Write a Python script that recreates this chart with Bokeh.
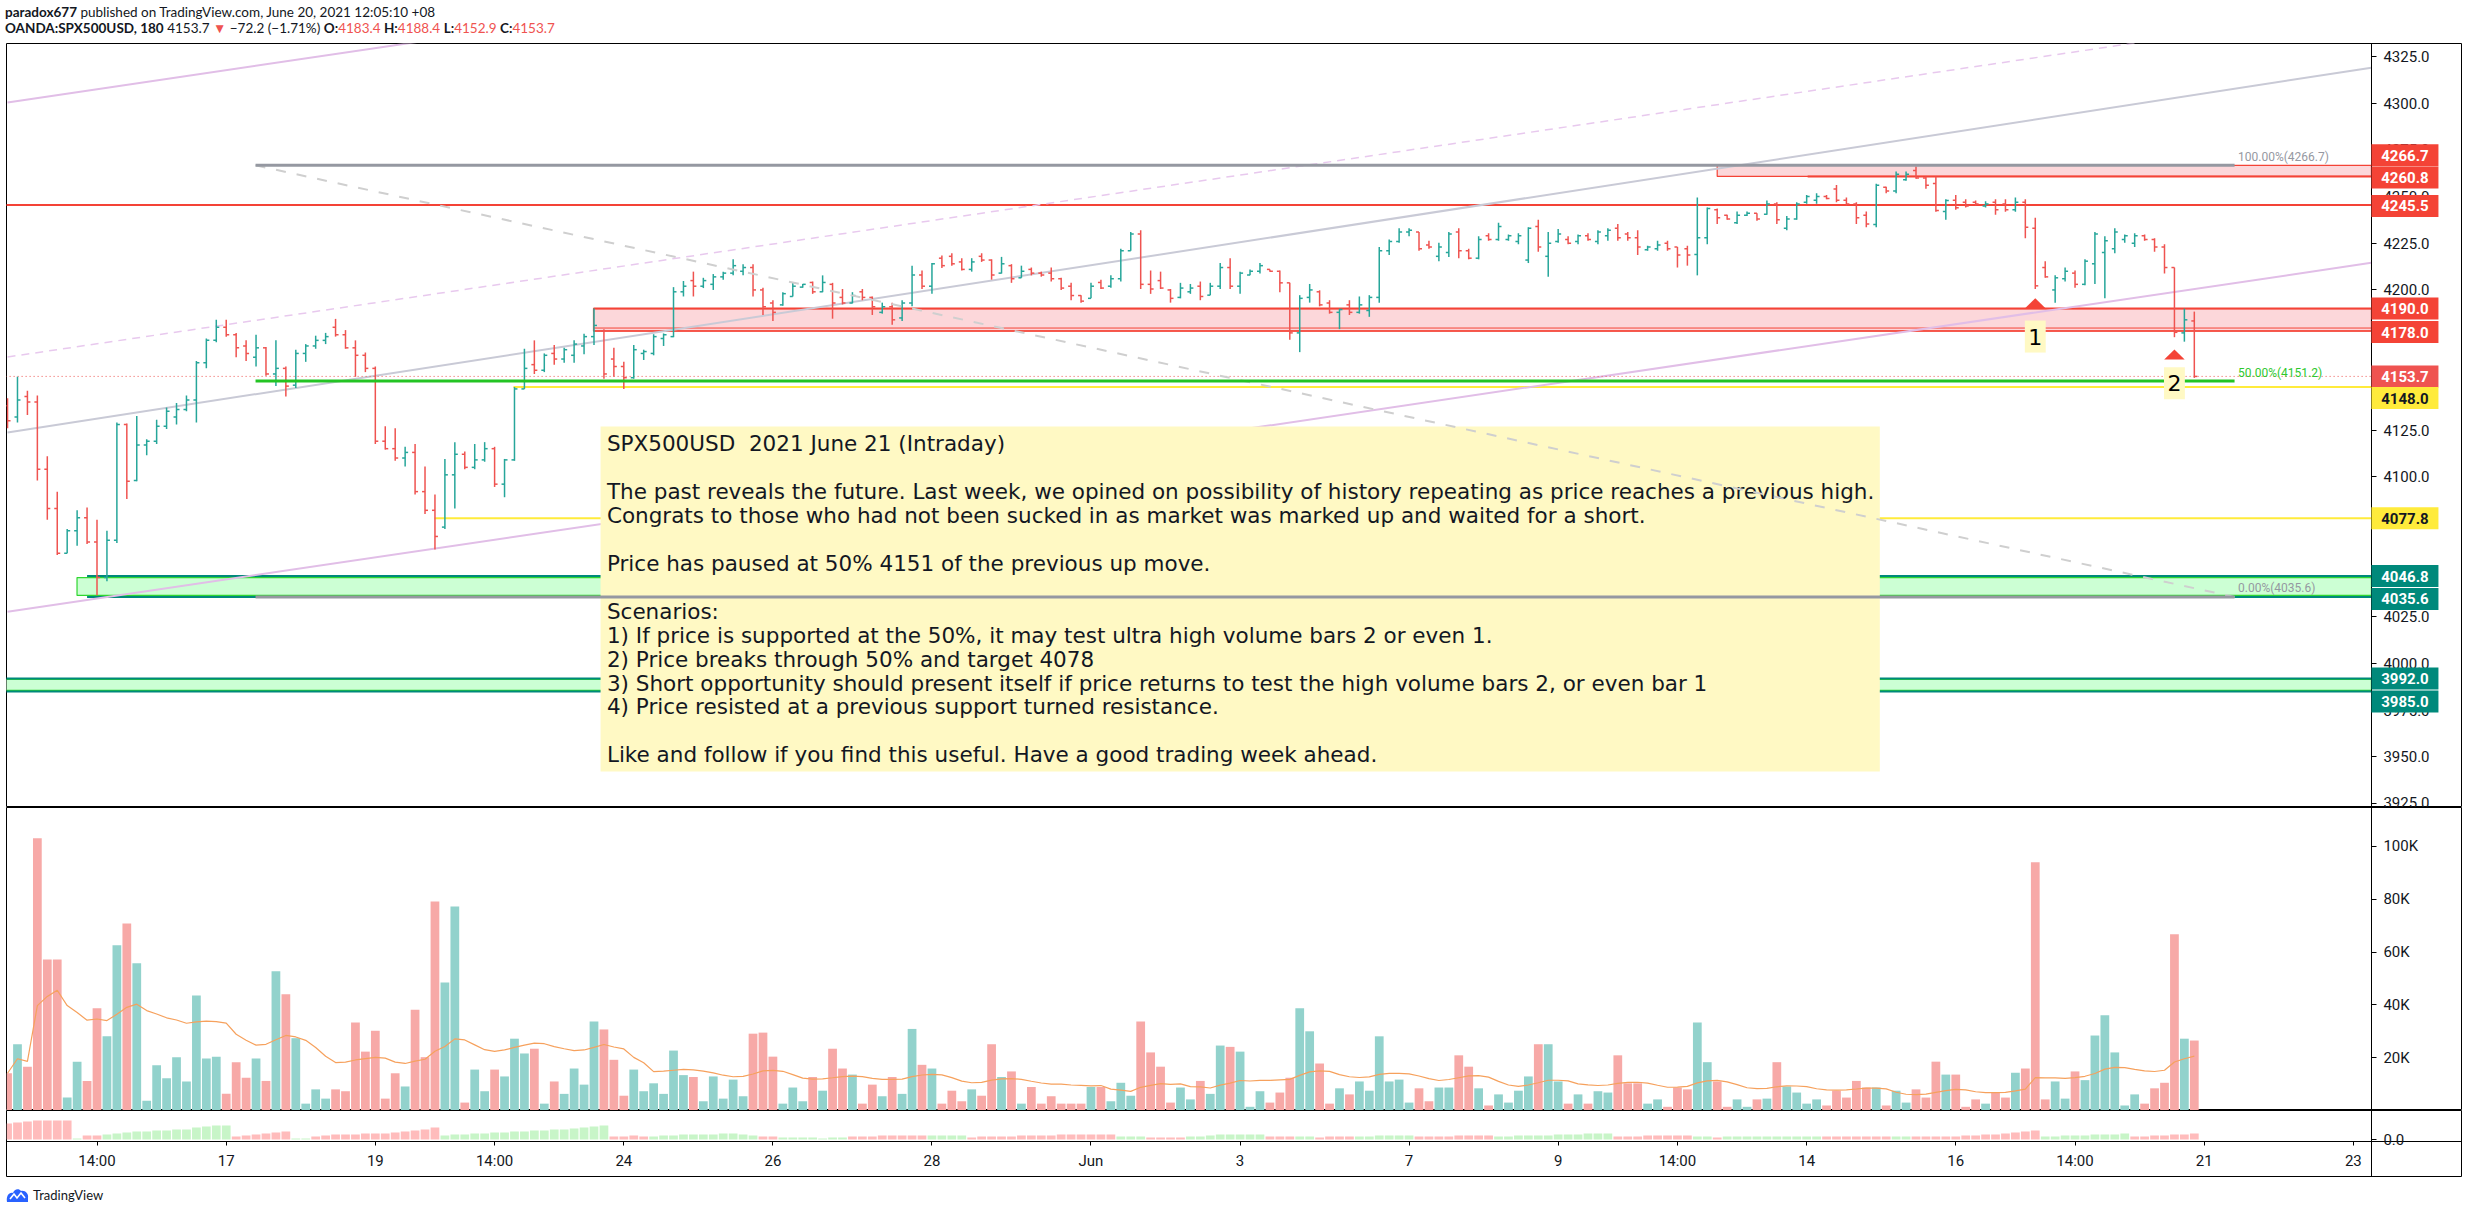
import numpy as np
import pandas as pd
from bokeh.plotting import figure
from bokeh.models import Range1d, FixedTicker, PrintfTickFormatter, Div, ColumnDataSource, LinearAxis, Grid
from bokeh.layouts import column
from bokeh.core.properties import value
from bokeh.embed import file_html
from bokeh.resources import INLINE

# ---------------- data (3h bars, OANDA:SPX500USD) ----------------
opens = [4138, 4132, 4143, 4140, 4104, 4083, 4059, 4071, 4078, 4065,
         4046, 4066, 4128, 4098, 4117, 4119, 4127, 4132, 4136, 4141,
         4161, 4173, 4180, 4176, 4170, 4164, 4169, 4155, 4158, 4149,
         4166, 4170, 4173, 4180, 4176, 4169, 4165, 4158, 4119, 4115,
         4110, 4113, 4092, 4082, 4073, 4101, 4112, 4105, 4109, 4115,
         4096, 4109, 4147, 4160, 4157, 4166, 4163, 4165, 4170, 4175,
         4178, 4163, 4159, 4153, 4166, 4166, 4174, 4175, 4199, 4205,
         4202, 4203, 4207, 4209, 4210, 4212, 4200, 4193, 4192, 4196.5,
         4201.5, 4204, 4199, 4203, 4196, 4193, 4199, 4196, 4188, 4191,
         4185, 4193, 4208, 4202, 4217, 4218, 4215, 4211, 4218, 4216,
         4209, 4213, 4206.5, 4211, 4209, 4209, 4206, 4202, 4197, 4195.5,
         4204, 4202, 4206, 4221, 4230, 4203, 4205, 4200, 4196, 4199,
         4202, 4197.2, 4202, 4212, 4202, 4208, 4210, 4211, 4210, 4203.8,
         4177, 4196, 4199, 4193, 4188, 4192, 4188, 4189, 4196, 4221,
         4226, 4231, 4231, 4224, 4218, 4220, 4231, 4221, 4217, 4229,
         4227, 4227, 4226, 4216, 4234, 4218, 4226, 4227, 4226, 4229,
         4226, 4229, 4233, 4230, 4228, 4221.5, 4222, 4225, 4223, 4222,
         4219, 4228, 4243, 4240, 4236, 4240, 4241, 4240.5, 4246, 4233,
         4238, 4247, 4248, 4250, 4254, 4248, 4246, 4240, 4235, 4255,
         4253, 4259, 4264, 4260, 4257, 4242, 4248, 4247, 4247, 4245,
         4247, 4246, 4243, 4247, 4233, 4212, 4200, 4206, 4209, 4203,
         4214, 4220, 4222, 4227, 4225, 4229, 4227, 4223, 4212, 4177, 4183.4]
highs = [4142, 4153.5, 4146, 4143.5, 4111, 4092, 4072, 4082, 4083.5, 4077,
         4071, 4129, 4128.5, 4132.5, 4120, 4130.5, 4137, 4139.5, 4143.5, 4162,
         4174, 4184, 4184, 4177, 4173, 4176, 4169.5, 4173, 4159, 4168,
         4171, 4175.5, 4177, 4184.5, 4178.5, 4173, 4166.5, 4159, 4127, 4126,
         4116, 4117.5, 4105.5, 4090.5, 4109.5, 4118.5, 4113.5, 4117.5, 4118.5, 4116,
         4109.5, 4148, 4168.5, 4173, 4166, 4170.5, 4169, 4173, 4176.5, 4190,
         4179, 4169, 4161.5, 4170.5, 4168, 4176.3, 4176.7, 4201.5, 4204.8, 4209.8,
         4206.5, 4208.5, 4209.8, 4216.4, 4213.8, 4213.8, 4201.2, 4194.5, 4198.8, 4203.8,
         4203.2, 4204.5, 4207.8, 4203.8, 4200.5, 4198.8, 4200.5, 4196.5, 4193.2, 4193.2,
         4194.5, 4213, 4210.4, 4214.4, 4218.4, 4219.7, 4217, 4217, 4219.7, 4216.4,
         4217.7, 4213.8, 4213, 4212, 4209.8, 4212, 4206.5, 4203.8, 4197.2, 4203.8,
         4205.5, 4207.8, 4222, 4231, 4232, 4210.4, 4209.8, 4200.5, 4203.8, 4203.2,
         4204.5, 4203.8, 4214.4, 4217, 4209.8, 4211, 4214.4, 4211, 4210.4, 4203.8,
         4197.2, 4203.2, 4199.8, 4194.5, 4190, 4194.5, 4196.5, 4197.2, 4223, 4227,
         4233, 4233, 4231, 4226.3, 4225.3, 4231, 4233, 4222, 4228.7, 4230.3,
         4236, 4229.7, 4230.3, 4233.6, 4237.6, 4231, 4232.6, 4228.7, 4229.7, 4230.3,
         4232, 4233, 4235.3, 4231, 4232, 4223.7, 4226.3, 4226.3, 4223, 4223.7,
         4249.5, 4244.2, 4243.6, 4240.3, 4242, 4242, 4241, 4247.9, 4246.9, 4239.6,
         4246.9, 4250.9, 4251.8, 4250.9, 4256.2, 4249.5, 4246.9, 4242, 4256.8, 4255.2,
         4263.4, 4263.4, 4266.1, 4260.8, 4260.8, 4248.5, 4250.9, 4248.5, 4247.9, 4247.5,
         4248.5, 4248.5, 4249.5, 4248.5, 4238.6, 4215.4, 4207.8, 4212, 4210.4, 4216.4,
         4231, 4228.7, 4233, 4229.7, 4230.3, 4229.7, 4227.7, 4224.4, 4212, 4190, 4188.4]
lows = [4126, 4129, 4133, 4098, 4077, 4058, 4059, 4063, 4064, 4036.5,
        4044, 4064.5, 4088, 4097.5, 4111.5, 4117.5, 4125.5, 4128, 4135, 4129,
        4158, 4172, 4175, 4164, 4162, 4159, 4154, 4148.5, 4143, 4147.5,
        4161.5, 4168.5, 4171, 4175, 4168.5, 4153.5, 4156, 4117.5, 4114.5, 4108.5,
        4105.5, 4090.5, 4080, 4061, 4072, 4083, 4104, 4104, 4108, 4094.5,
        4089, 4108.5, 4147, 4155, 4156, 4160, 4161, 4161, 4165.5, 4170.5,
        4152.5, 4153.5, 4147, 4152.5, 4162.5, 4165, 4170, 4174.7, 4196.5, 4196.5,
        4201, 4200, 4205.5, 4207.8, 4207.8, 4196.5, 4186.6, 4183.3, 4191.5, 4196.5,
        4201.2, 4197.9, 4198.8, 4184.6, 4192.2, 4192.8, 4194.5, 4186.6, 4187.3, 4181.3,
        4183.3, 4191.2, 4200.5, 4197.9, 4211.8, 4213, 4210.4, 4209.8, 4215, 4205.5,
        4208.8, 4203.8, 4206.5, 4207.8, 4207.1, 4204.5, 4200, 4194.5, 4193.2, 4195.5,
        4200.5, 4201.2, 4204.5, 4221, 4200.5, 4197.9, 4200.5, 4193.2, 4195.5, 4197.9,
        4194.5, 4197.2, 4200.5, 4200.5, 4197.9, 4207.8, 4208.8, 4209.8, 4198.8, 4173.3,
        4166.7, 4193.2, 4191.2, 4187.3, 4179, 4186.6, 4187.3, 4185.6, 4193.2, 4218.7,
        4225.3, 4228.7, 4221, 4222, 4215.4, 4217.7, 4217, 4216.4, 4216.4, 4226.3,
        4226.3, 4226.3, 4224.4, 4214.4, 4220.4, 4207.1, 4225.3, 4224.4, 4224.4, 4226.3,
        4224.4, 4226.3, 4226.3, 4226.3, 4218.7, 4221, 4221, 4221, 4212, 4213,
        4207.8, 4224.4, 4235.3, 4237.6, 4235.3, 4239.6, 4237, 4240.3, 4235.3, 4232,
        4237.6, 4246.2, 4246.2, 4248.5, 4246.9, 4245.2, 4235.3, 4233.6, 4233.6, 4251.8,
        4251.8, 4258.5, 4259.5, 4254.2, 4241.9, 4237.6, 4242.9, 4244.2, 4245.2, 4244.2,
        4240.3, 4241.9, 4241.9, 4227.7, 4200.5, 4206.5, 4193.2, 4204.5, 4201.2, 4202.5,
        4203.2, 4195.5, 4219.7, 4225.3, 4223, 4226.3, 4220.4, 4208.8, 4174.7, 4172.3, 4152.9]
closes = [4130, 4141, 4140, 4104, 4083, 4059, 4071, 4078, 4065, 4046,
          4066, 4128, 4097.5, 4117, 4119, 4127, 4135, 4136, 4141, 4161,
          4173, 4180, 4176, 4169, 4166, 4169, 4155, 4158, 4148.5, 4166,
          4170, 4173, 4175, 4176, 4169, 4165, 4158, 4119, 4115, 4110,
          4113, 4092, 4082, 4068, 4101, 4112, 4105, 4109, 4115, 4096,
          4109, 4147, 4158, 4157, 4165, 4163, 4168, 4171, 4175, 4181,
          4155, 4159, 4153, 4168, 4167, 4175, 4176, 4199, 4202, 4202,
          4205, 4207, 4209, 4213, 4212, 4200, 4191, 4188, 4198, 4202,
          4203, 4199, 4204, 4193, 4193, 4197, 4196, 4191, 4191, 4184,
          4193, 4208, 4202, 4214, 4213, 4214, 4211, 4215, 4216, 4208,
          4214, 4206, 4210, 4209, 4208, 4206, 4201, 4197, 4194, 4202,
          4201, 4206, 4221, 4230, 4203, 4200.5, 4201, 4195.5, 4201, 4201,
          4196.5, 4202, 4212, 4202, 4209, 4210, 4213, 4210, 4203.8, 4177,
          4195.5, 4200, 4192, 4188, 4189.5, 4188, 4192, 4196, 4221, 4226,
          4231, 4232, 4222, 4223, 4223, 4230, 4221, 4217, 4227, 4227,
          4234, 4229, 4229, 4233, 4223, 4225, 4230, 4225, 4229, 4227,
          4231, 4232, 4228, 4228, 4223, 4223, 4224, 4222, 4218.7, 4218.7,
          4228, 4243.6, 4238.6, 4238, 4240, 4241, 4238, 4246, 4237.6, 4238,
          4246, 4250, 4250, 4249, 4248, 4246, 4238.6, 4235.3, 4256, 4253,
          4262, 4262, 4260, 4256, 4242.6, 4247.9, 4244, 4245, 4246, 4246,
          4243, 4243, 4247, 4233.6, 4202.2, 4207, 4206.5, 4210, 4203, 4215.4,
          4230, 4226.3, 4231, 4229, 4229, 4227, 4223, 4212, 4177.3, 4184, 4153.7]
volume_k = [14.1, 25.1, 16.6, 103.1, 57.2, 57.2, 4.9, 18.5, 11.2, 38.7,
            28.1, 62.6, 70.8, 55.8, 3.7, 17.1, 12.2, 20.2, 11.0, 43.6,
            19.7, 20.4, 6.3, 18.3, 12.4, 19.7, 11.2, 52.7, 44.0, 27.4,
            2.6, 8.0, 4.5, 8.0, 7.3, 33.3, 22.3, 30.2, 4.5, 14.1,
            9.1, 38.2, 20.2, 79.2, 48.5, 77.3, 3.0, 15.5, 7.3, 15.5,
            12.9, 27.2, 21.6, 23.4, 2.6, 11.0, 6.3, 15.9, 9.8, 33.7,
            30.7, 19.2, 5.6, 15.5, 7.3, 10.3, 6.3, 22.7, 13.4, 12.7,
            3.5, 12.9, 4.5, 11.7, 5.4, 29.1, 29.5, 20.4, 2.6, 8.7,
            3.5, 12.7, 7.5, 23.4, 15.9, 13.6, 2.6, 9.8, 5.4, 12.7,
            6.3, 30.9, 17.3, 15.9, 2.6, 7.5, 3.5, 8.0, 5.6, 25.1,
            12.7, 14.8, 2.6, 8.9, 2.6, 5.4, 2.6, 2.6, 2.6, 8.9,
            8.9, 3.5, 10.5, 5.6, 33.7, 22.0, 16.6, 3.0, 8.7, 4.2,
            11.2, 6.3, 24.6, 24.1, 22.3, 1.4, 7.3, 3.0, 6.8, 12.4,
            38.7, 30.0, 17.8, 2.6, 8.4, 6.1, 11.0, 7.5, 28.1, 11.0,
            11.7, 3.0, 8.4, 3.5, 8.7, 8.7, 20.9, 16.6, 8.4, 1.9,
            6.1, 3.0, 7.5, 12.9, 25.1, 25.1, 11.0, 2.6, 6.1, 2.6,
            7.3, 6.8, 20.9, 10.3, 10.3, 2.6, 4.2, 1.4, 8.7, 8.0,
            33.3, 18.3, 11.0, 1.4, 4.2, 1.4, 4.2, 4.5, 18.3, 9.1,
            6.8, 2.6, 4.2, 1.9, 7.5, 4.9, 11.2, 8.7, 8.7, 1.9,
            7.5, 3.0, 8.0, 4.9, 18.5, 13.6, 13.6, 1.4, 4.2, 2.6,
            6.8, 4.9, 14.3, 15.9, 94.0, 4.2, 11.0, 4.5, 14.8, 11.5,
            28.4, 36.1, 22.0, 1.9, 6.1, 2.6, 8.4, 10.5, 66.8, 27.2, 26.5]
osc = [-16, -17, -18, -19, -19, -19, -19, 1, -4, -4,
       5, 6, 7, 8, 8, 9, 9, 10, 10, 12, 13, 14, 14,
       -3, -4, -5, -6, -7, -8, 1, 1,
       -3, -4, -5, -5, -5, -6, -6, -6, -7, -8, -9, -10, -12,
       4, 5, 5, 6, 6, 7, 7, 8, 8, 9, 9, 10, 10, 11, 12, 13, 14,
       -3, -3, -4, -3,
       3, 4, 4, 5, 5, 5, 5, 6, 6, 5, 4,
       -3, -3, 2, 2, 2, 2, 1, 2, 2,
       -3, -3, -3, -4, -4, -4, -4, -4,
       4, 4, 4, 4,
       -2, -3, -3, -3, -3, -4, -4, -4, -4,
       -5, -5, -5, -5, -5, -5, 3, 3, 3, -2, -2, -2, -2,
       3, 3, 4, 5, 5, 5, 5, 5, -3, -3, -3, 3, 3, -2, -3, -3, -3,
       3, 3, 4, 4, 4, 4, -3, -3, -3, -3, -4, -4, -4, -4,
       3, 3, 4, 4, 4, 4, 5, 5, 5, 6, 6, 6,
       -3, -3, -3, -4, -4, -4, -4, -4, 3, 3, -2,
       3, 3, 3, 3, 3, 3, 3, 3, 3, 3,
       -3, -3, -3, -3, -3, -3, -3, 3, 3,
       -3, -3, -3, -3, -3, -4, -4, -5, -5, -6, -7, -8, -9,
       3, 3, 4, 4, 4, 5, 5, 5, 6,
       -3, -3, -4, -4, -5, -5, -6]

x_tick_idx = [9, 22, 37, 49, 62, 77, 93, 109, 124, 141, 156, 168, 181, 196, 208, 221, 236]
x_tick_labels = ["14:00", "17", "19", "14:00", "24", "26", "28", "Jun", "3", "7", "9",
                 "14:00", "14", "16", "14:00", "21", "23"]
price_ticks = [3925, 3950, 3975, 4000, 4025, 4050, 4075, 4100, 4125, 4150, 4175,
               4200, 4225, 4250, 4275, 4300, 4325]
vol_ticks = [20, 40, 60, 80, 100]

# drawings (bar index, price)
zone_left = [172.0, 58.95, 6.99, -1.0]
zone_bottom = [4260.8, 4178.0, 4036.4, 3985.6]
zone_top = [4266.7, 4190.0, 4046.0, 3991.4]
level_y = [4245.5, 4260.8, 4190.0, 4179.6, 4178.0, 4046.8, 4035.6, 3992.0, 3985.0, 4148.0, 4077.8]
level_start = [-1.0, 181.1, 58.95, 58.95, 58.95, 8.0, 8.0, -1.0, -1.0, 50.9, 42.96]
channel_x = [0.0, 237.8]
channel_lower = [4027.7, 4214.5]
channel_upper = [4300.4, 4487.2]
channel_mid = [4164.1, 4350.9]
trend_gray = [4123.7, 4319.0]
fib_x = [24.95, 224.05]
fib_levels = [4266.7, 4151.2, 4035.6]
fib_texts = ["100.00%(4266.7)", "50.00%(4151.2)", "0.00%(4035.6)"]
last_price = 4153.7
marker_idx = [204, 218]
marker_apex = [4195.5, 4168.1]
marker_box_top = [4183.6, 4158.6]
marker_text = ["1", "2"]
tag_values = [4266.7, 4260.8, 4245.5, 4190.0, 4178.0, 4153.7, 4148.0, 4077.8, 4046.8, 4035.6, 3992.0, 3985.0]
tag_kind = ["red", "red", "red", "red", "red", "last", "yellow", "yellow", "teal", "teal", "teal", "teal"]
tag_shift_px = [-10, 1, 1, 0, 1, 0, 11, 0, 0, 2, 0, 10]
note_lines = ["SPX500USD\u00a0 2021 June 21 (Intraday)", "",
              "The past reveals the future. Last week, we opined on possibility of history repeating as price reaches a previous high.",
              "Congrats to those who had not been sucked in as market was marked up and waited for a short.", "",
              "Price has paused at 50% 4151 of the previous up move.", "",
              "Scenarios:",
              "1) If price is supported at the 50%, it may test ultra high volume bars 2 or even 1.",
              "2) Price breaks through 50% and target 4078",
              "3) Short opportunity should present itself if price returns to test the high volume bars 2, or even bar 1",
              "4) Price resisted at a previous support turned resistance.", "",
              "Like and follow if you find this useful. Have a good trading week ahead."]

# ---------------- layout constants ----------------
PX_PT = 1.8675      # px per price point
PX_IDX = 9.94       # px per bar
W = 2468
X_END = 237.82      # bar-index position of the price scale line
X_MAX = 246.88      # right border of the chart
xr = Range1d(-0.105, X_MAX)
TXT = "#131722"
UP, DN = "#26a69a", "#ef5350"
RED = "#f44336"
TEAL = "#00897b"
YEL = "#ffeb3b"
AXF = "Roboto"
TAG_MID = X_END + 33.5 / PX_IDX

n = len(closes)
idx = np.arange(n)
o = np.array(opens, float); h = np.array(highs, float)
l = np.array(lows, float); c = np.array(closes, float)
is_up = c >= o
src = ColumnDataSource(dict(
    x=idx, o=o, h=h, l=l, c=c, xl=idx - 0.3, xr=idx + 0.3,
    col=np.where(is_up, UP, DN),
    v=np.array(volume_k), vcol=np.where(is_up, "#92d2cc", "#f7a9a7"),
    vma=pd.Series(volume_k).rolling(20, min_periods=1).mean().values,
    osc=np.abs(np.array(osc, float)),
    ocol=np.where(np.array(osc) >= 0, "#c8f5c8", "#ffbcbc")))


def style_axis(ax, standoff=7, tick_out=5):
    ax.axis_line_color = "black"
    ax.major_tick_line_color = "black"
    ax.minor_tick_line_color = None
    ax.major_tick_out = tick_out
    ax.major_tick_in = 0
    ax.major_label_text_font = AXF
    ax.major_label_text_font_size = "15px"
    ax.major_label_text_color = TXT
    ax.major_label_standoff = standoff


def base_fig(height, y_range, ticks, fmt):
    f = figure(width=W, height=height, x_range=xr, y_range=y_range,
               x_axis_location=None, y_axis_location=None,
               toolbar_location=None, output_backend="svg",
               min_border_left=6, min_border_right=7, min_border_top=0,
               min_border_bottom=0, outline_line_color="black",
               background_fill_color="white", border_fill_color="white")
    for g in f.select(type=Grid):
        g.visible = False
    ax = LinearAxis(fixed_location=X_END, ticker=FixedTicker(ticks=ticks),
                    formatter=PrintfTickFormatter(format=fmt))
    style_axis(ax)
    f.add_layout(ax, "right")
    return f


# ---------------- price pane ----------------
p = base_fig(764, Range1d(3922.86, 4331.96), price_ticks, "%.1f")

zsrc = ColumnDataSource(dict(left=zone_left, right=[X_END] * 4, bottom=zone_bottom, top=zone_top,
                             fill=["#fcd7da", "#fcd7da", "#ccffd4", "#ccffd4"],
                             line=[RED, RED, "#2fd62f", "#2fd62f"]))
p.quad(left="left", right="right", bottom="bottom", top="top", fill_color="fill",
       line_color="line", line_width=1.2, source=zsrc)
lsrc = ColumnDataSource(dict(x0=level_start, x1=[X_END] * len(level_y), y=level_y,
                             col=[RED, RED, RED, RED, RED, TEAL, TEAL, TEAL, TEAL, YEL, YEL],
                             w=[2, 2, 2, 1, 1.5, 2, 2, 2, 2, 2, 2]))
p.segment(x0="x0", y0="y", x1="x1", y1="y", line_color="col", line_width="w", source=lsrc)

p.line(channel_x, channel_lower, line_color="#e1bee7", line_width=2)
p.line(channel_x, channel_upper, line_color="#e1bee7", line_width=2)
p.line(channel_x, channel_mid, line_color="#e8c9ee", line_width=1.5, line_dash="8 6")
p.line(channel_x, trend_gray, line_color="#c9cad6", line_width=2)
p.segment(x0=[-1], y0=[last_price], x1=[X_END], y1=[last_price], line_color=DN,
          line_width=1, line_dash="1 3")

p.segment(x0="x", y0="l", x1="x", y1="h", line_color="col", line_width=1.5, source=src)
p.segment(x0="xl", y0="o", x1="x", y1="o", line_color="col", line_width=1.5, source=src)
p.segment(x0="x", y0="c", x1="xr", y1="c", line_color="col", line_width=1.5, source=src)

# note box
top_px = 426.0; bot_px = 771.0
p.quad(left=[59.66], right=[188.36], top=[4325 - (top_px - 56) / PX_PT],
       bottom=[4325 - (bot_px - 56) / PX_PT], fill_color="#fff9c4", line_color=None)
note_y = [4325 - (443 + 23.95 * k - 56) / PX_PT for k in range(len(note_lines))]
p.text(x=[60.3] * len(note_lines), y=note_y, text=note_lines, text_font=value("DejaVu Sans"),
       text_font_size=value("21.5px"), text_color=TXT, text_baseline="middle", text_align="left")

# fib retracement
p.line(fib_x, [fib_levels[0], fib_levels[2]], line_color="#cfcfcf", line_width=2, line_dash="10 11")
fsrc = ColumnDataSource(dict(x0=[fib_x[0]] * 3, x1=[fib_x[1]] * 3, y=fib_levels,
                             col=["#9598a1", "#24c424", "#9598a1"],
                             tcol=["#9598a1", "#2ec82e", "#9598a1"],
                             tx=[224.4] * 3, ty=[v + 1.5 / PX_PT for v in fib_levels], t=fib_texts))
p.segment(x0="x0", y0="y", x1="x1", y1="y", line_color="col", line_width=3, source=fsrc)
p.text(x="tx", y="ty", text="t", text_color="tcol", text_font=value(AXF), text_font_size=value("12px"),
       text_baseline="bottom", text_align="left", source=fsrc)

# markers
tri_h = 10 / PX_PT
p.patches(xs=[[i - 1.03, i, i + 1.03] for i in marker_idx],
          ys=[[a - tri_h, a, a - tri_h] for a in marker_apex], fill_color=RED, line_color=None)
box_h = 32 / PX_PT
p.quad(left=[i - 1.05 for i in marker_idx], right=[i + 1.05 for i in marker_idx],
       top=marker_box_top, bottom=[t - box_h for t in marker_box_top], fill_color="#fff9c4", line_color=None)
p.text(x=marker_idx, y=[t - box_h / 2 for t in marker_box_top], text=marker_text,
       text_font=value("DejaVu Sans"), text_font_size=value("22px"), text_color="black",
       text_align="center", text_baseline="middle")

# price tags on the price scale (drawn above the axis labels)
tag_style = {"red": (RED, "white"), "last": ("#ef5350", "white"), "yellow": (YEL, TXT), "teal": (TEAL, "white")}
tsrc = ColumnDataSource(dict(
    x=[TAG_MID] * len(tag_values),
    y=[v - s / PX_PT for v, s in zip(tag_values, tag_shift_px)],
    t=[f"{v:.1f}" for v in tag_values],
    bg=[tag_style[k][0] for k in tag_kind], fg=[tag_style[k][1] for k in tag_kind]))
p.rect(x="x", y="y", width=67, height=22, width_units="screen", height_units="screen",
       fill_color="bg", line_color=None, source=tsrc, level="overlay")
p.text(x="x", y="y", text="t", text_color="fg", text_font=value(AXF), text_font_size=value("15px"),
       text_font_style="bold", text_align="center", text_baseline="middle", source=tsrc, level="overlay")

# ---------------- volume pane ----------------
pv = base_fig(303, Range1d(0, 114.77), vol_ticks, "%dK")
pv.vbar(x="x", top="v", bottom=0, width=0.88, fill_color="vcol", line_color=None, source=src)
pv.line(x="x", y="vma", line_color="#f6a15d", line_width=1.2, source=src)

# ---------------- oscillator pane + time scale ----------------
po = base_fig(67, Range1d(-38, 29), [0], "%.1f")
po.vbar(x="x", top="osc", bottom=0, width=0.88, fill_color="ocol", line_color=None, source=src)
xa = LinearAxis(fixed_location=-2, ticker=FixedTicker(ticks=x_tick_idx))
style_axis(xa, standoff=6, tick_out=4)
xa.major_label_overrides = {t: s for t, s in zip(x_tick_idx, x_tick_labels)}
po.add_layout(xa, "below")

# ---------------- header / footer ----------------
R = '<span style="color:#ef5350">'
header = Div(text=(
    '<div style="height:43px;box-sizing:border-box;padding:4px 0 0 5px;font-family:Lato,sans-serif;'
    'font-size:13.5px;line-height:16px;color:#131722;white-space:nowrap">'
    '<b>paradox677</b> published on TradingView.com, June 20, 2021 12:05:10 +08<br>'
    f'<b>OANDA:SPX500USD, 180</b> 4153.7 {R}&#9660;</span> &minus;72.2 (&minus;1.71%) '
    f'<b>O:</b>{R}4183.4</span> <b>H:</b>{R}4188.4</span> <b>L:</b>{R}4152.9</span> <b>C:</b>{R}4153.7</span>'
    '</div>'), width=W, height=43, margin=(0, 0, 0, 0))
footer = Div(text=(
    '<div style="height:37px;box-sizing:border-box;padding:10px 0 0 6px;display:flex;align-items:flex-start;'
    'font-family:Lato,sans-serif;font-size:13px;line-height:16px;color:#131722">'
    '<svg width="24" height="16" viewBox="0 0 24 16"><path d="M1 15 C0 9 3 5 7 6 C8 2 13 1 15 4 C19 3 23 7 22 11 L22 15 Z" fill="#2962ff"/>'
    '<polyline points="4,12 8,7 11,11 15,6 19,11" fill="none" stroke="white" stroke-width="1.6"/></svg>'
    '<span style="margin-left:3px">TradingView</span></div>'), width=W, height=37, margin=(0, 0, 0, 0))

layout = column(header, p, pv, po, footer, spacing=0)
open("out.html", "w").write(file_html(layout, INLINE))
